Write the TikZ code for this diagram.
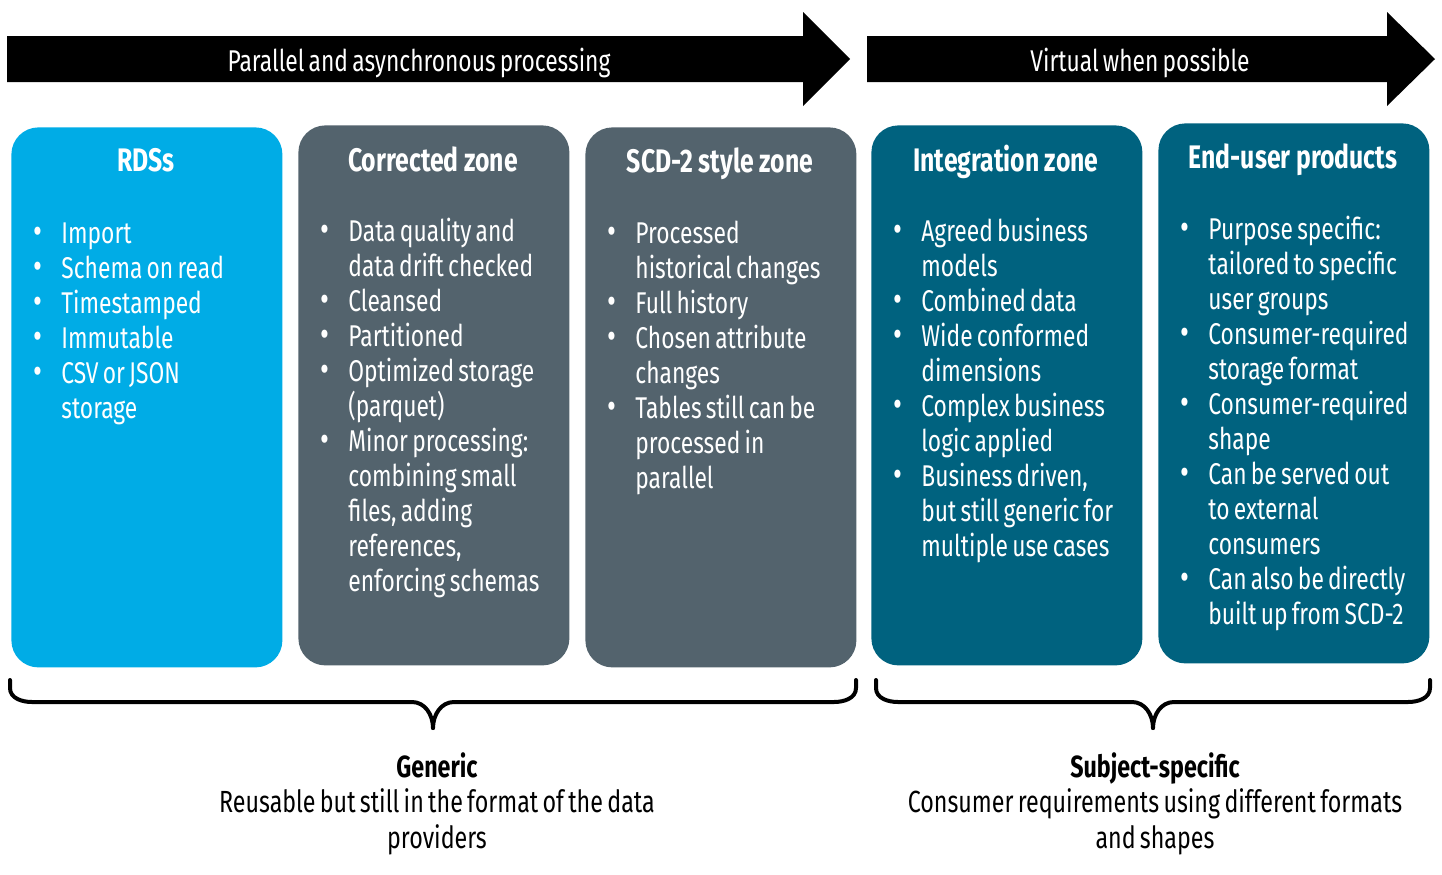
\documentclass[tikz,border=0pt]{standalone}
\usepackage{fontspec}
\usepackage{graphicx}
\setmainfont{Fira Sans}[FakeStretch=0.76, WordSpace=0.7, BoldFeatures={WordSpace=0.95}]
\definecolor{rdsblue}{RGB}{0,172,230}
\definecolor{zonegray}{RGB}{83,99,109}
\definecolor{zoneteal}{RGB}{0,98,127}
\newcommand\itm{\par\noindent\hangindent=13pt\hangafter=1\makebox[13pt][l]{\hspace{-0.8pt}\raisebox{-0.3pt}{\scalebox{1.2}{•}}}}
\newcommand\zlist[1]{\begin{minipage}[t]{130pt}\fontsize{15pt}{17.5pt}\selectfont\rightskip=0pt plus 1fil\parindent=0pt#1\end{minipage}}
\newcommand\zsum[1]{\begin{tabular}[t]{@{}c@{}}#1\end{tabular}}
\tikzset{
	zone/.style={rounded corners=13.5pt, minimum width=135.5pt, minimum height=270pt, anchor=north west, inner sep=0pt},
	ztitle/.style={anchor=base, text=white, font=\fontsize{16.3pt}{18pt}\selectfont\bfseries, inner sep=0pt},
	zbody/.style={anchor=base west, text=white, inner sep=0pt},
	banner/.style={fill=black},
	bannertext/.style={anchor=base, text=white, font=\fontsize{15pt}{17.5pt}\selectfont, inner sep=0pt},
	brace/.style={draw=black, line width=2pt, line cap=round},
	summary/.style={anchor=base, inner sep=0pt, font=\fontsize{15.3pt}{17.8pt}\selectfont}
}
\begin{document}
\begin{tikzpicture}[x=0.5pt, y=-0.5pt]
		\useasboundingbox (0,0) rectangle (1442,874);
		% banners
		\fill[banner] (7,36) -- (803,36) -- (803,12) -- (850,59) -- (803,106) -- (803,82) -- (7,82) -- cycle;
		\node[bannertext] (parallel) at (419,71) {Parallel and asynchronous processing};
		\fill[banner] (867,36) -- (1387,36) -- (1387,12) -- (1435,59) -- (1387,106) -- (1387,82) -- (867,82) -- cycle;
		\node[bannertext] (virtual) at (1140,71) {Virtual when possible};
		% zones
		\node[zone, fill=rdsblue] (rds) at (11,127) {};
		\node[zone, fill=zonegray] (corr) at (298,125) {};
		\node[zone, fill=zonegray] (scd) at (585,127) {};
		\node[zone, fill=zoneteal] (integ) at (871,125) {};
		\node[zone, fill=zoneteal] (enduser) at (1158,123) {};
		% titles
		\node[ztitle] (rdsTitle) at (146,171) {RDSs};
		\node[ztitle] (corrTitle) at (433,171) {Corrected zone};
		\node[ztitle] (scdTitle) at (720,172) {SCD-2 style zone};
		\node[ztitle] (integTitle) at (1006,171) {Integration zone};
		\node[ztitle] (enduserTitle) at (1293,168) {End-user products};
		% bullet lists
		\node[zbody] (rdsList) at (35,243) {\zlist{\itm Import\itm Schema on read\itm Timestamped\itm Immutable\itm CSV or JSON\\storage}};
		\node[zbody] (corrList) at (322,241) {\zlist{\itm Data quality and\\data drift checked\itm Cleansed\itm Partitioned\itm Optimized storage\\(parquet)\itm Minor processing:\\combining small\\files, adding\\references,\\enforcing schemas}};
		\node[zbody] (scdList) at (609,243) {\zlist{\itm Processed\\historical changes\itm Full history\itm Chosen attribute\\changes\itm Tables still can be\\processed in\\parallel}};
		\node[zbody] (integList) at (895,241) {\zlist{\itm Agreed business\\models\itm Combined data\itm Wide conformed\\dimensions\itm Complex business\\logic applied\itm Business driven,\\but still generic for\\multiple use cases}};
		\node[zbody] (enduserList) at (1182,239) {\zlist{\itm Purpose specific:\\tailored to specific\\user groups\itm Consumer-required\\storage format\itm Consumer-required\\shape\itm Can be served out\\to external\\consumers\itm Can also be directly\\built up from SCD-2}};
		% braces
		\coordinate (genTip) at (433,728);
		\coordinate (subTip) at (1153,728);
		\draw[brace] (10,680) -- (10,688) to[out=-90,in=180] (32,702) -- (412,702) to[out=0,in=90] (genTip);
		\draw[brace] (genTip) to[out=90,in=180] (454,702) -- (834,702) to[out=0,in=-90] (856,688) -- (856,680);
		\draw[brace] (876,680) -- (876,688) to[out=-90,in=180] (898,702) -- (1132,702) to[out=0,in=90] (subTip);
		\draw[brace] (subTip) to[out=90,in=180] (1174,702) -- (1408,702) to[out=0,in=-90] (1430,688) -- (1430,680);
		% summaries
		\node[summary] (generic) at (437,777) {\zsum{\textbf{Generic}\\Reusable but still in the format of the data\\providers}};
		\node[summary] (specific) at (1155,777) {\zsum{\textbf{Subject-specific}\\Consumer requirements using different formats\\and shapes}};
	\end{tikzpicture}
\end{document}
